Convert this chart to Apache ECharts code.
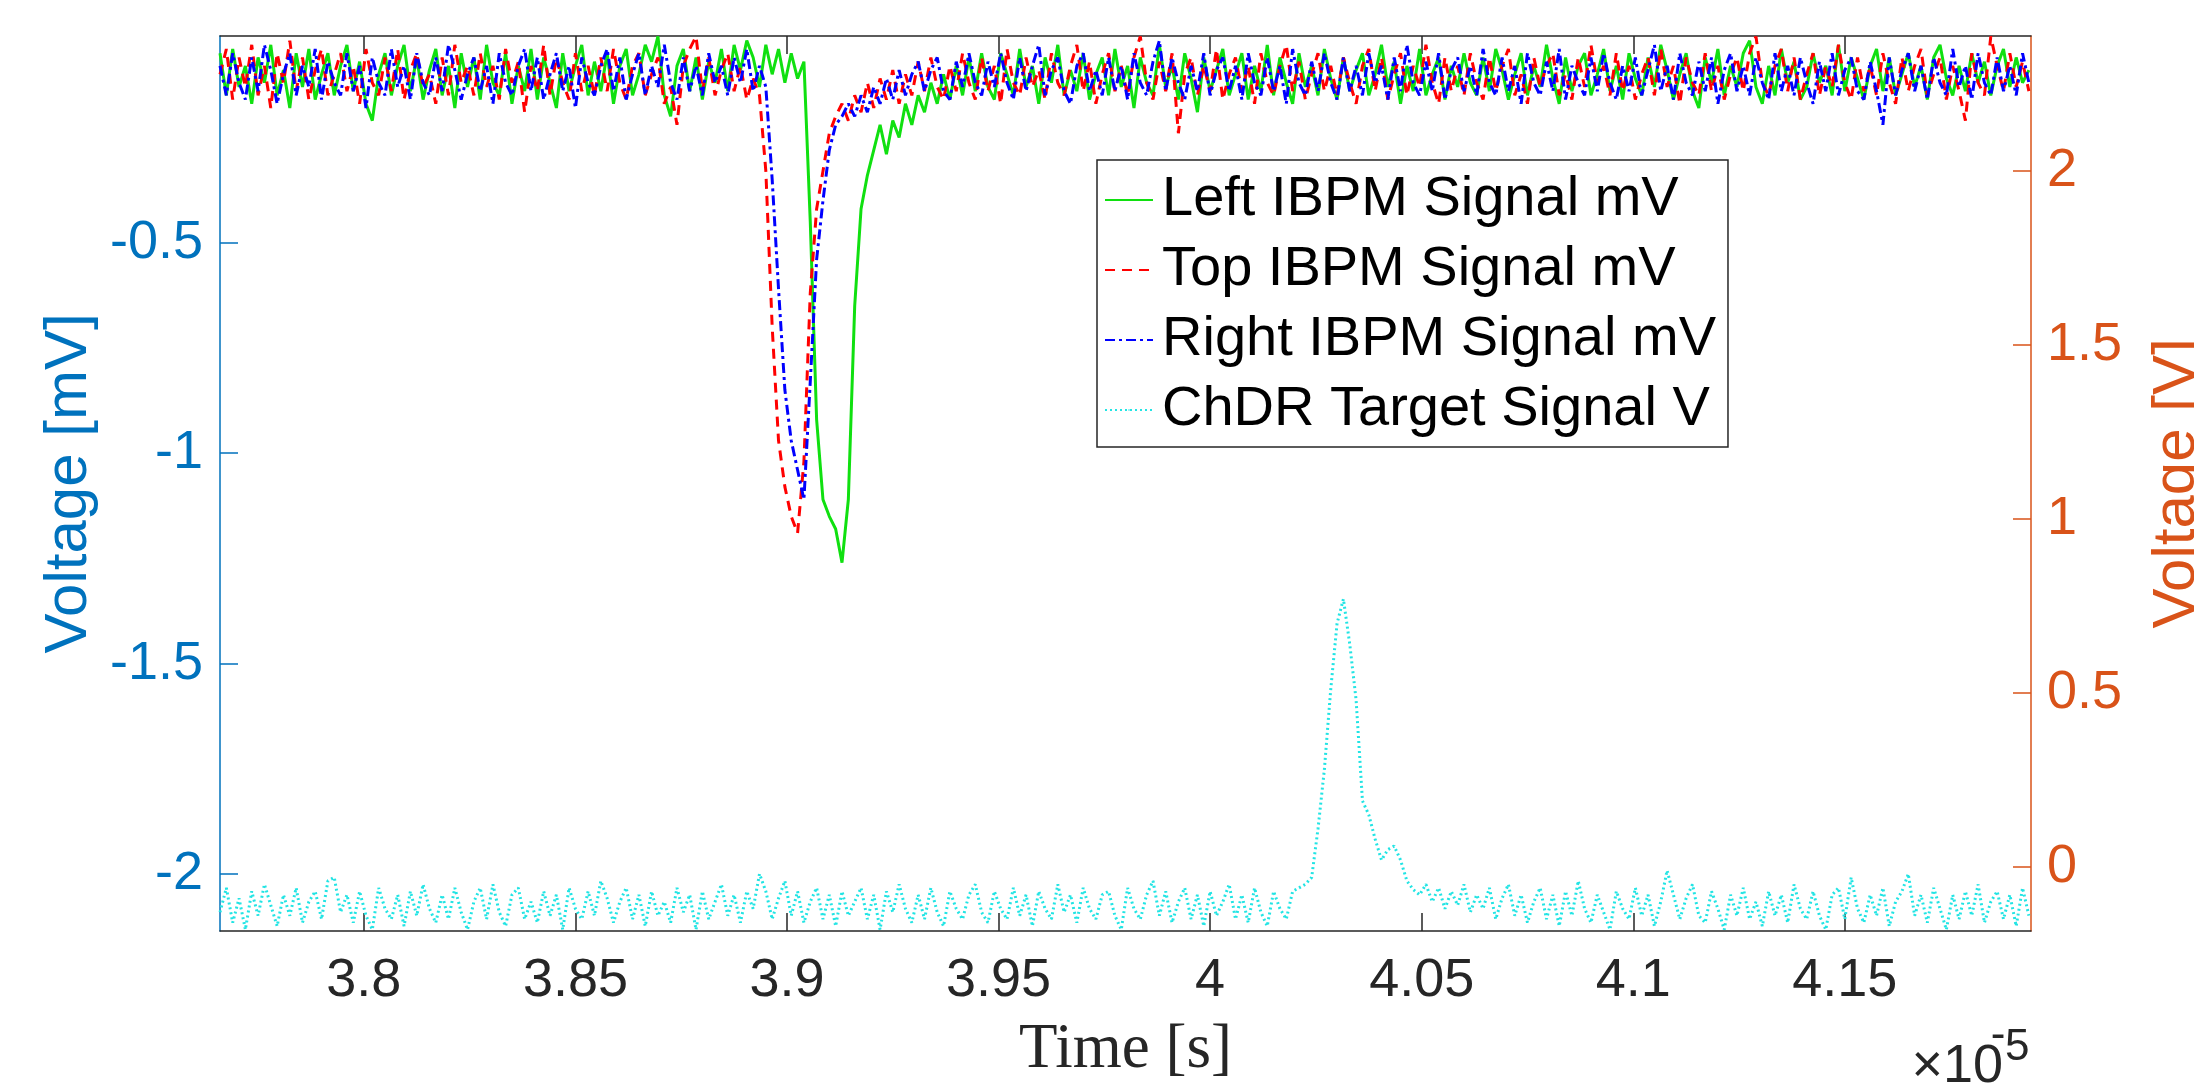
<!DOCTYPE html>
<html>
<head>
<meta charset="utf-8">
<title>IBPM / ChDR signals</title>
<script src="https://cdn.jsdelivr.net/npm/echarts@6.0.0/dist/echarts.min.js"></script>
<style>
  html, body { margin: 0; padding: 0; background: #fff; }
  #chart { width: 2194px; height: 1087px; }
</style>
</head>
<body>
<div id="chart"></div>
<script>
// sample grid of the scope trace, time in units of 1e-5 s
const timeStart = 3.766;
const timeStep = 0.0015;

const xTicks = [3.8, 3.85, 3.9, 3.95, 4, 4.05, 4.1, 4.15];
const leftTicks = [-2, -1.5, -1, -0.5];
const rightTicks = [0, 0.5, 1, 1.5, 2];

// Left IBPM, mV
const leftSignal = [
  -0.05,-0.15,-0.04,-0.13,-0.08,-0.17,-0.06,-0.12,-0.03,-0.15,-0.09,-0.18,-0.05,-0.13,-0.04,-0.16,-0.10,-0.05,-0.15,-0.08,
  -0.03,-0.14,-0.07,-0.17,-0.21,-0.10,-0.05,-0.15,-0.08,-0.03,-0.14,-0.06,-0.16,-0.09,-0.04,-0.15,-0.08,-0.18,-0.05,-0.13,
  -0.06,-0.16,-0.03,-0.12,-0.15,-0.05,-0.17,-0.08,-0.14,-0.04,-0.16,-0.06,-0.12,-0.18,-0.05,-0.14,-0.08,-0.03,-0.15,-0.07,
  -0.14,-0.05,-0.17,-0.08,-0.04,-0.15,-0.10,-0.03,-0.07,-0.01,-0.15,-0.20,-0.08,-0.04,-0.14,-0.06,-0.16,-0.07,-0.12,-0.04,
  -0.14,-0.03,-0.09,-0.02,-0.06,-0.13,-0.03,-0.10,-0.04,-0.12,-0.05,-0.11,-0.07,-0.45,-0.92,-1.11,-1.15,-1.18,-1.26,-1.11,
  -0.65,-0.42,-0.34,-0.28,-0.22,-0.29,-0.21,-0.25,-0.17,-0.22,-0.15,-0.19,-0.12,-0.17,-0.10,-0.16,-0.08,-0.15,-0.06,-0.14,
  -0.05,-0.13,-0.16,-0.05,-0.10,-0.15,-0.04,-0.13,-0.08,-0.17,-0.06,-0.12,-0.03,-0.15,-0.09,-0.14,-0.05,-0.16,-0.10,-0.06,
  -0.15,-0.04,-0.13,-0.08,-0.18,-0.06,-0.12,-0.15,-0.03,-0.13,-0.08,-0.16,-0.05,-0.11,-0.19,-0.06,-0.14,-0.09,-0.04,-0.15,
  -0.10,-0.05,-0.16,-0.08,-0.14,-0.03,-0.15,-0.06,-0.12,-0.17,-0.05,-0.13,-0.08,-0.15,-0.04,-0.11,-0.16,-0.06,-0.14,-0.09,
  -0.05,-0.15,-0.10,-0.03,-0.13,-0.07,-0.17,-0.08,-0.14,-0.04,-0.15,-0.10,-0.06,-0.16,-0.08,-0.13,-0.05,-0.12,-0.15,-0.06,
  -0.14,-0.04,-0.09,-0.16,-0.10,-0.05,-0.15,-0.08,-0.13,-0.03,-0.11,-0.17,-0.06,-0.14,-0.08,-0.05,-0.15,-0.10,-0.04,-0.14,
  -0.08,-0.16,-0.05,-0.11,-0.15,-0.06,-0.13,-0.03,-0.09,-0.16,-0.10,-0.05,-0.14,-0.18,-0.06,-0.12,-0.04,-0.15,-0.08,-0.13,
  -0.05,-0.02,-0.13,-0.17,-0.08,-0.15,-0.04,-0.12,-0.07,-0.16,-0.13,-0.05,-0.12,-0.08,-0.15,-0.03,-0.14,-0.06,-0.11,-0.16,
  -0.08,-0.04,-0.14,-0.06,-0.15,-0.10,-0.05,-0.13,-0.08,-0.16,-0.06,-0.03,-0.11,-0.15,-0.08,-0.14,-0.05,-0.12,-0.07,-0.15,
  -0.08,-0.04,-0.13,-0.06,-0.12,-0.09
];

// Top IBPM, mV
const topSignal = [
  -0.10,-0.04,-0.16,-0.06,-0.13,-0.03,-0.15,-0.08,-0.18,-0.05,-0.12,-0.02,-0.14,-0.06,-0.16,-0.09,-0.04,-0.15,-0.10,-0.05,
  -0.14,-0.08,-0.17,-0.04,-0.12,-0.15,-0.06,-0.14,-0.04,-0.16,-0.09,-0.05,-0.13,-0.10,-0.17,-0.06,-0.15,-0.03,-0.12,-0.08,
  -0.15,-0.05,-0.13,-0.08,-0.16,-0.04,-0.12,-0.07,-0.19,-0.08,-0.14,-0.03,-0.15,-0.06,-0.12,-0.16,-0.05,-0.14,-0.08,-0.15,
  -0.06,-0.14,-0.04,-0.12,-0.16,-0.08,-0.05,-0.15,-0.10,-0.06,-0.17,-0.13,-0.22,-0.08,-0.04,-0.01,-0.14,-0.06,-0.15,-0.09,
  -0.05,-0.14,-0.08,-0.16,-0.11,-0.15,-0.33,-0.70,-0.97,-1.08,-1.15,-1.19,-1.02,-0.62,-0.42,-0.33,-0.24,-0.20,-0.17,-0.21,
  -0.15,-0.19,-0.12,-0.18,-0.11,-0.16,-0.09,-0.17,-0.10,-0.15,-0.07,-0.14,-0.06,-0.13,-0.16,-0.08,-0.14,-0.05,-0.12,-0.16,
  -0.06,-0.14,-0.08,-0.17,-0.04,-0.12,-0.15,-0.06,-0.13,-0.09,-0.16,-0.05,-0.12,-0.15,-0.08,-0.03,-0.14,-0.07,-0.17,-0.10,
  -0.05,-0.14,-0.08,-0.15,-0.06,-0.01,-0.12,-0.16,-0.07,-0.14,-0.05,-0.24,-0.10,-0.06,-0.15,-0.08,-0.14,-0.04,-0.16,-0.10,
  -0.06,-0.14,-0.08,-0.17,-0.05,-0.12,-0.15,-0.08,-0.03,-0.14,-0.07,-0.16,-0.10,-0.05,-0.14,-0.08,-0.15,-0.06,-0.12,-0.17,
  -0.08,-0.04,-0.14,-0.06,-0.16,-0.10,-0.05,-0.15,-0.08,-0.13,-0.03,-0.12,-0.17,-0.06,-0.14,-0.08,-0.15,-0.05,-0.12,-0.16,
  -0.06,-0.14,-0.08,-0.04,-0.15,-0.10,-0.17,-0.06,-0.13,-0.08,-0.05,-0.15,-0.10,-0.16,-0.06,-0.13,-0.03,-0.12,-0.08,-0.15,
  -0.05,-0.14,-0.08,-0.16,-0.10,-0.06,-0.15,-0.04,-0.13,-0.08,-0.17,-0.06,-0.12,-0.15,-0.05,-0.14,-0.08,-0.16,-0.10,-0.06,
  -0.14,-0.05,-0.01,-0.12,-0.15,-0.08,-0.04,-0.14,-0.06,-0.16,-0.10,-0.05,-0.15,-0.08,-0.13,-0.03,-0.12,-0.16,-0.06,-0.14,
  -0.08,-0.15,-0.05,-0.12,-0.17,-0.06,-0.14,-0.08,-0.04,-0.15,-0.10,-0.06,-0.16,-0.08,-0.14,-0.21,-0.05,-0.12,-0.15,-0.01,
  -0.08,-0.14,-0.05,-0.13,-0.07,-0.14
];

// Right IBPM, mV
const rightSignal = [
  -0.08,-0.15,-0.05,-0.12,-0.16,-0.06,-0.14,-0.03,-0.09,-0.17,-0.10,-0.05,-0.15,-0.08,-0.13,-0.04,-0.16,-0.07,-0.12,-0.15,
  -0.05,-0.14,-0.08,-0.18,-0.06,-0.12,-0.15,-0.04,-0.13,-0.08,-0.16,-0.05,-0.12,-0.15,-0.06,-0.14,-0.03,-0.09,-0.16,-0.10,
  -0.06,-0.14,-0.08,-0.17,-0.05,-0.12,-0.15,-0.08,-0.04,-0.14,-0.06,-0.16,-0.10,-0.05,-0.14,-0.08,-0.18,-0.06,-0.12,-0.15,
  -0.08,-0.04,-0.14,-0.06,-0.16,-0.10,-0.05,-0.15,-0.08,-0.13,-0.03,-0.12,-0.16,-0.06,-0.14,-0.08,-0.15,-0.05,-0.12,-0.08,
  -0.15,-0.06,-0.12,-0.04,-0.14,-0.08,-0.13,-0.35,-0.61,-0.85,-0.97,-1.04,-1.11,-0.83,-0.54,-0.40,-0.28,-0.22,-0.20,-0.17,
  -0.20,-0.15,-0.19,-0.13,-0.17,-0.11,-0.16,-0.09,-0.15,-0.10,-0.07,-0.14,-0.09,-0.06,-0.14,-0.16,-0.07,-0.13,-0.05,-0.12,
  -0.15,-0.07,-0.13,-0.05,-0.12,-0.16,-0.06,-0.14,-0.08,-0.03,-0.15,-0.09,-0.06,-0.14,-0.17,-0.08,-0.05,-0.14,-0.09,-0.15,
  -0.06,-0.14,-0.08,-0.16,-0.05,-0.12,-0.15,-0.07,-0.02,-0.14,-0.06,-0.12,-0.16,-0.08,-0.14,-0.05,-0.15,-0.09,-0.06,-0.14,
  -0.08,-0.16,-0.05,-0.12,-0.15,-0.06,-0.14,-0.08,-0.17,-0.04,-0.12,-0.15,-0.07,-0.14,-0.05,-0.12,-0.16,-0.06,-0.14,-0.08,
  -0.15,-0.05,-0.12,-0.08,-0.16,-0.06,-0.14,-0.03,-0.12,-0.15,-0.07,-0.14,-0.05,-0.16,-0.09,-0.06,-0.14,-0.08,-0.15,-0.04,
  -0.12,-0.15,-0.06,-0.14,-0.08,-0.17,-0.05,-0.12,-0.15,-0.07,-0.14,-0.04,-0.16,-0.08,-0.12,-0.15,-0.06,-0.14,-0.05,-0.12,
  -0.16,-0.08,-0.14,-0.06,-0.15,-0.09,-0.03,-0.14,-0.08,-0.16,-0.05,-0.12,-0.15,-0.07,-0.14,-0.06,-0.17,-0.09,-0.05,-0.14,
  -0.08,-0.15,-0.06,-0.12,-0.16,-0.05,-0.14,-0.08,-0.15,-0.06,-0.12,-0.17,-0.07,-0.14,-0.05,-0.15,-0.09,-0.06,-0.14,-0.16,
  -0.07,-0.14,-0.22,-0.06,-0.15,-0.09,-0.05,-0.14,-0.08,-0.16,-0.06,-0.12,-0.15,-0.04,-0.13,-0.08,-0.16,-0.05,-0.12,-0.15,
  -0.06,-0.14,-0.08,-0.15,-0.05,-0.12
];

// ChDR target, V (right axis)
const chdrSignal = [
  -0.13,-0.06,-0.16,-0.09,-0.18,-0.07,-0.14,-0.05,-0.11,-0.17,-0.08,-0.14,-0.06,-0.16,-0.10,-0.07,-0.15,-0.04,-0.03,-0.13,
  -0.08,-0.16,-0.07,-0.14,-0.18,-0.06,-0.12,-0.15,-0.08,-0.17,-0.07,-0.14,-0.05,-0.12,-0.16,-0.08,-0.15,-0.06,-0.13,-0.18,
  -0.10,-0.06,-0.15,-0.05,-0.13,-0.17,-0.08,-0.06,-0.15,-0.10,-0.16,-0.07,-0.14,-0.08,-0.18,-0.06,-0.12,-0.15,-0.07,-0.14,
  -0.04,-0.09,-0.16,-0.10,-0.06,-0.15,-0.08,-0.17,-0.07,-0.14,-0.10,-0.16,-0.06,-0.13,-0.08,-0.18,-0.07,-0.15,-0.10,-0.05,
  -0.14,-0.08,-0.16,-0.07,-0.12,-0.02,-0.07,-0.15,-0.09,-0.04,-0.14,-0.07,-0.16,-0.10,-0.06,-0.15,-0.08,-0.17,-0.07,-0.14,
  -0.10,-0.06,-0.15,-0.08,-0.18,-0.07,-0.13,-0.05,-0.12,-0.16,-0.08,-0.15,-0.06,-0.13,-0.17,-0.07,-0.12,-0.15,-0.08,-0.05,
  -0.13,-0.16,-0.07,-0.12,-0.15,-0.06,-0.14,-0.08,-0.17,-0.07,-0.12,-0.15,-0.05,-0.13,-0.08,-0.16,-0.06,-0.12,-0.15,-0.08,
  -0.07,-0.14,-0.18,-0.06,-0.12,-0.15,-0.08,-0.04,-0.14,-0.07,-0.16,-0.10,-0.06,-0.15,-0.08,-0.17,-0.07,-0.14,-0.10,-0.05,
  -0.15,-0.08,-0.16,-0.06,-0.13,-0.17,-0.07,-0.12,-0.15,-0.07,-0.06,-0.05,-0.03,0.11,0.28,0.51,0.70,0.77,0.64,0.48,
  0.19,0.15,0.08,0.02,0.05,0.06,0.02,-0.04,-0.065,-0.08,-0.05,-0.10,-0.06,-0.12,-0.07,-0.11,-0.05,-0.13,-0.08,-0.12,
  -0.06,-0.15,-0.09,-0.05,-0.14,-0.08,-0.16,-0.10,-0.06,-0.15,-0.08,-0.17,-0.07,-0.14,-0.04,-0.12,-0.16,-0.08,-0.13,-0.18,
  -0.07,-0.12,-0.15,-0.06,-0.14,-0.08,-0.17,-0.10,-0.01,-0.08,-0.15,-0.09,-0.05,-0.14,-0.16,-0.07,-0.12,-0.18,-0.08,-0.14,
  -0.06,-0.15,-0.10,-0.17,-0.07,-0.14,-0.08,-0.16,-0.05,-0.12,-0.15,-0.07,-0.14,-0.18,-0.08,-0.06,-0.15,-0.03,-0.12,-0.16,
  -0.08,-0.14,-0.06,-0.17,-0.10,-0.07,-0.02,-0.14,-0.08,-0.16,-0.06,-0.12,-0.18,-0.08,-0.15,-0.07,-0.14,-0.05,-0.16,-0.10,
  -0.07,-0.15,-0.08,-0.17,-0.06,-0.14
];

const toPairs = arr => arr.map((v, i) => [timeStart + i * timeStep, v]);

const BLUE = '#0072BD';
const ORANGE = '#D95319';
const DARK = '#262626';
const SANS = '"Liberation Sans", Arial, Helvetica, sans-serif';

var myChart = echarts.init(document.getElementById('chart'), null, { renderer: 'canvas' });

let option = {
    backgroundColor: '#ffffff',
    animation: false,
    textStyle: { fontFamily: SANS },
    grid: { left: 220, right: 163, top: 36, bottom: 156, containLabel: false, outerBoundsMode: 'none' },
    legend: {
        orient: 'vertical',
        left: 1097,
        top: 160,
        padding: [10, 12, 7, 7],
        itemWidth: 48,
        itemHeight: 2,
        itemGap: 10,
        selectedMode: false,
        backgroundColor: '#ffffff',
        borderColor: DARK,
        borderWidth: 1.5,
        textStyle: { fontSize: 56, lineHeight: 60, color: '#000', fontFamily: SANS, padding: [0, 0, 0, 4] },
        data: ['Left IBPM Signal mV', 'Top IBPM Signal mV', 'Right IBPM Signal mV', 'ChDR Target Signal V']
    },
    xAxis: [
        {
            type: 'value',
            min: 3.766,
            max: 4.194,
            position: 'bottom',
            name: 'Time [s]',
            nameLocation: 'middle',
            nameGap: 88,
            nameTextStyle: { fontFamily: '"Liberation Serif", "Times New Roman", serif', fontSize: 63, color: DARK },
            axisLine: { onZero: false, lineStyle: { color: DARK, width: 1.5 } },
            axisTick: { inside: true, length: 18, customValues: xTicks, lineStyle: { color: DARK, width: 1.5 } },
            axisLabel: {
                customValues: xTicks,
                margin: 23,
                fontSize: 54,
                color: DARK,
                formatter: v => String(+v.toFixed(2))
            },
            splitLine: { show: false }
        },
        {
            type: 'value',
            min: 3.766,
            max: 4.194,
            position: 'top',
            axisLine: { onZero: false, lineStyle: { color: DARK, width: 1.5 } },
            axisTick: { inside: true, length: 18, customValues: xTicks, lineStyle: { color: DARK, width: 1.5 } },
            axisLabel: { show: false },
            splitLine: { show: false }
        }
    ],
    yAxis: [
        {
            type: 'value',
            min: -2.135,
            max: -0.009,
            position: 'left',
            name: 'Voltage [mV]',
            nameLocation: 'middle',
            nameGap: 118,
            nameRotate: 90,
            nameTextStyle: { fontSize: 60, color: BLUE },
            axisLine: { show: true, onZero: false, lineStyle: { color: BLUE, width: 1.5 } },
            axisTick: { show: true, inside: true, length: 18, customValues: leftTicks, lineStyle: { color: BLUE, width: 1.5 } },
            axisLabel: { customValues: leftTicks, margin: 17, fontSize: 54, color: BLUE },
            splitLine: { show: false }
        },
        {
            type: 'value',
            min: -0.184,
            max: 2.388,
            position: 'right',
            name: 'Voltage [V]',
            nameLocation: 'middle',
            nameGap: 116,
            nameRotate: 90,
            nameTextStyle: { fontSize: 60, color: ORANGE },
            axisLine: { show: true, onZero: false, lineStyle: { color: ORANGE, width: 1.5 } },
            axisTick: { show: true, inside: true, length: 18, customValues: rightTicks, lineStyle: { color: ORANGE, width: 1.5 } },
            axisLabel: { customValues: rightTicks, margin: 16, fontSize: 54, color: ORANGE },
            splitLine: { show: false }
        }
    ],
    graphic: [
        {
            type: 'text',
            x: 2003,
            y: 1067,
            style: { text: '×10', font: '54px ' + SANS, fill: DARK, align: 'right', verticalAlign: 'middle', textAlign: 'right', textVerticalAlign: 'middle' }
        },
        {
            type: 'text',
            x: 1998,
            y: 1036,
            style: { text: '-', font: '44px ' + SANS, fill: DARK, align: 'center', verticalAlign: 'middle', textAlign: 'center', textVerticalAlign: 'middle' }
        },
        {
            type: 'text',
            x: 2005,
            y: 1048,
            style: { text: '5', font: '44px ' + SANS, fill: DARK, align: 'left', verticalAlign: 'middle', textAlign: 'left', textVerticalAlign: 'middle' }
        }
    ],
    series: [
        {
            name: 'Left IBPM Signal mV',
            type: 'line',
            xAxisIndex: 0,
            yAxisIndex: 0,
            symbol: 'none',
            data: toPairs(leftSignal),
            lineStyle: { color: '#10e010', width: 3, type: 'solid' },
            itemStyle: { color: '#10e010' }
        },
        {
            name: 'Top IBPM Signal mV',
            type: 'line',
            xAxisIndex: 0,
            yAxisIndex: 0,
            symbol: 'none',
            data: toPairs(topSignal),
            lineStyle: { color: '#ff0000', width: 3, type: [10, 7] },
            itemStyle: { color: '#ff0000' }
        },
        {
            name: 'Right IBPM Signal mV',
            type: 'line',
            xAxisIndex: 0,
            yAxisIndex: 0,
            symbol: 'none',
            data: toPairs(rightSignal),
            lineStyle: { color: '#0000ff', width: 3, type: [10, 4, 3, 4] },
            itemStyle: { color: '#0000ff' }
        },
        {
            name: 'ChDR Target Signal V',
            type: 'line',
            xAxisIndex: 0,
            yAxisIndex: 1,
            symbol: 'none',
            data: toPairs(chdrSignal),
            lineStyle: { color: '#22e4e4', width: 3, type: [2, 3] },
            itemStyle: { color: '#22e4e4' }
        }
    ]
};

myChart.setOption(option);
</script>
</body>
</html>
